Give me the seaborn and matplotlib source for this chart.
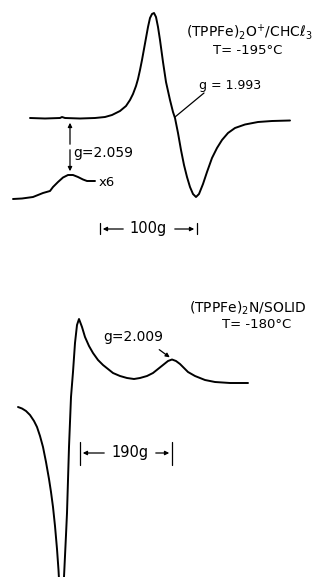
import matplotlib
matplotlib.use("Agg")
import matplotlib.pyplot as plt
import seaborn as sns

sns.set_style("white")
plt.rcParams['font.family'] = ['DejaVu Sans']

# ---- data (horizontal: field position, vertical: pen position, downward) ----
top_field = [30, 45, 60, 62, 65, 80, 95, 105, 112, 120, 126, 130, 133, 136, 138, 140, 142, 144, 146,
             148, 150, 152, 154, 156, 158, 160, 163, 166, 170, 173, 175, 178, 181, 184, 187, 190,
             193, 196, 199, 203, 207, 212, 217, 222, 228, 235, 245, 258, 272, 290]
top_signal = [118, 118.5, 118, 117, 118, 118.5, 118, 117, 115, 111, 106, 100, 94, 86, 79, 70, 60, 49, 38,
              27, 18, 14, 13, 17, 27, 40, 62, 82, 100, 112, 118, 133, 150, 165, 177, 187,
              194, 197, 194, 184, 172, 158, 148, 140, 133, 128, 124.5, 122, 121, 120.5]

x6_field = [13, 22, 33, 38, 43, 50, 53, 58, 63, 68, 73, 78, 83, 87, 92, 95]
x6_signal = [199, 198.5, 197, 195, 193, 191, 187, 182, 177.5, 175, 175, 177, 179.5, 181, 181, 181]

bot_field = [18, 22, 26, 30, 34, 37, 40, 43, 46, 49, 51, 53, 55, 57, 58.5, 60, 62.5, 64, 66, 67,
             69, 71, 73, 75, 77, 79,
             82, 85, 89, 93, 98, 103, 108, 113, 120, 127, 134, 140, 147, 153, 158, 163, 168,
             172, 176, 180, 184, 188, 195, 205, 215, 230, 248]
bot_signal = [407, 408.5, 411, 415, 421, 427, 436, 447, 462, 479, 492, 507, 526, 549, 570, 598, 600, 577, 535, 513,
              447, 397, 372, 343, 325, 319,
              327, 337, 346, 353, 360, 365, 369, 373, 376, 378, 379, 378, 376, 373, 369, 365, 361,
              359.5, 361, 364, 368, 372, 376, 380, 382, 383, 383]

labels_top = [r"(TPPFe)$_2$O$^{+}$/CHC$\ell_3$", "T= -195\u00b0C", "g = 1.993", "g=2.059", "x6", "100g"]
labels_bot = [r"(TPPFe)$_2$N/SOLID", "T= -180\u00b0C", "g=2.009", "190g"]

fig = plt.figure(figsize=(3.26, 5.77), dpi=100)
ax = fig.add_axes([0, 0, 1, 1])
lw = 1.4
kw = dict(color="black", linewidth=lw, sort=False, estimator=None, ax=ax, legend=False)
sns.lineplot(x=top_field, y=top_signal, **kw)
sns.lineplot(x=x6_field, y=x6_signal, **kw)
sns.lineplot(x=bot_field, y=bot_signal, **kw)

ax.set_xlim(0, 326)
ax.set_ylim(577, 0)
ax.set_axis_off()

tkw = dict(color="black")
akw = dict(arrowstyle="-|>", color="black", lw=0.9, mutation_scale=6)

# ---- top spectrum annotations ----
ax.text(186, 32, labels_top[0], ha="left", va="center", fontsize=10, **tkw)
ax.text(248, 50, labels_top[1], ha="center", va="center", fontsize=9.5, **tkw)
ax.text(199, 85, labels_top[2], ha="left", va="center", fontsize=9, **tkw)
ax.plot([204, 175], [93, 117], color="black", lw=0.9)
ax.text(73, 153, labels_top[3], ha="left", va="center", fontsize=10, **tkw)
ax.annotate("", xy=(70, 120), xytext=(70, 147), arrowprops=akw)
ax.annotate("", xy=(70, 174), xytext=(70, 147), arrowprops=akw)
ax.text(99, 183, labels_top[4], ha="left", va="center", fontsize=9.5, **tkw)

# 100 G scale bar
ax.plot([100, 100], [223, 234], color="black", lw=0.9)
ax.plot([197, 197], [223, 234], color="black", lw=0.9)
ax.annotate("", xy=(100, 229), xytext=(126, 229), arrowprops=akw)
ax.annotate("", xy=(197, 229), xytext=(172, 229), arrowprops=akw)
ax.text(148.5, 229, labels_top[5], ha="center", va="center", fontsize=10.5, **tkw)

# ---- bottom spectrum annotations ----
ax.text(189, 308, labels_bot[0], ha="left", va="center", fontsize=10, **tkw)
ax.text(257, 325, labels_bot[1], ha="center", va="center", fontsize=9.5, **tkw)
ax.text(103, 337, labels_bot[2], ha="left", va="center", fontsize=10, **tkw)
ax.annotate("", xy=(172, 359), xytext=(157, 348), arrowprops=akw)

# 190 G scale bar
ax.plot([80, 80], [442, 465], color="black", lw=0.9)
ax.plot([172, 172], [442, 465], color="black", lw=0.9)
ax.annotate("", xy=(80, 453), xytext=(107, 453), arrowprops=akw)
ax.annotate("", xy=(172, 453), xytext=(153, 453), arrowprops=akw)
ax.text(130, 453, labels_bot[3], ha="center", va="center", fontsize=10.5, **tkw)

fig.savefig("out.png", dpi=100)
